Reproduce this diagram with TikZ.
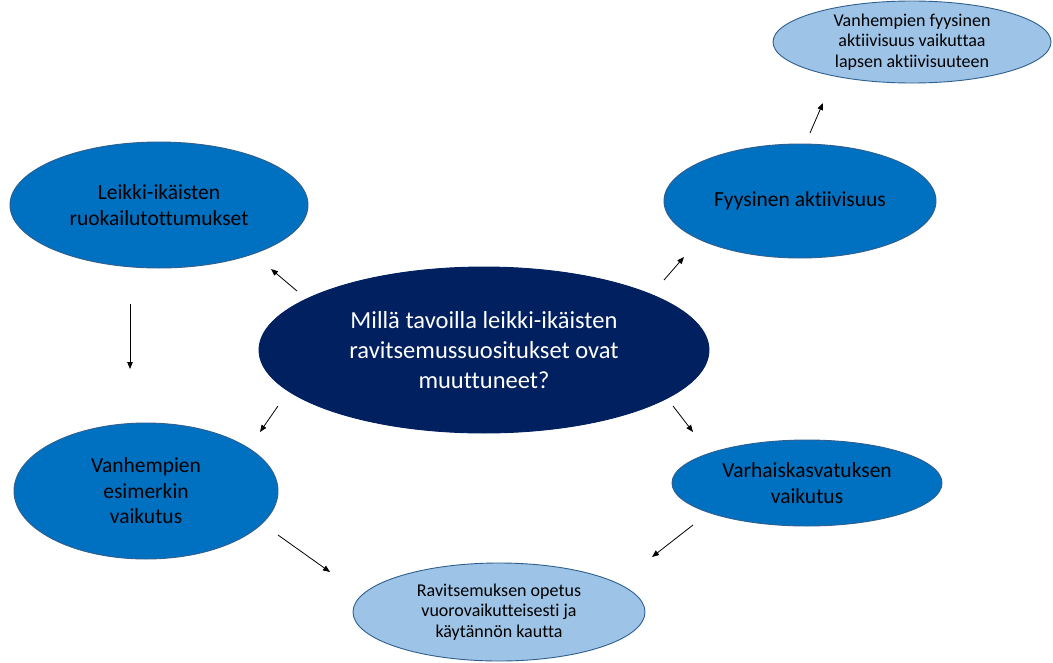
\documentclass[tikz,border=0pt]{standalone}
\usepackage{fontspec}
\setmainfont{Carlito}[Ligatures=CommonOff]
\usetikzlibrary{shapes.geometric,arrows.meta}
\definecolor{navy}{HTML}{002060}
\definecolor{midblue}{HTML}{0070C0}
\definecolor{lightblue}{HTML}{9DC3E6}
\definecolor{edgeblue}{HTML}{2F5F8F}
\begin{document}
\begin{tikzpicture}[x=1pt,y=-1pt,
  bubble/.style={ellipse, draw=edgeblue, line width=0.9pt, inner sep=0pt, align=center},
  mid/.style={bubble, fill=midblue, font=\fontsize{21.5}{25.5}\selectfont, text=black},
  light/.style={bubble, fill=lightblue, font=\fontsize{18}{20.5}\selectfont, text=black},
  core/.style={bubble, fill=navy, draw=navy, font=\fontsize{24.5}{30}\selectfont, text=white},
  arr/.style={-{Triangle[length=7pt,width=5.5pt]}, line width=0.8pt, black}]
\useasboundingbox (0,0) rectangle (1053,662);
\fill[white] (0,0) rectangle (1053,662);

\node[core, minimum width=450pt, minimum height=166pt] (c) at (484,350)
  {Millä tavoilla leikki-ikäisten\\ravitsemussuositukset ovat\\muuttuneet?};
\node[mid, minimum width=298pt, minimum height=126pt] (tl) at (159,205)
  {Leikki-ikäisten\\ruokailutottumukset};
\node[mid, minimum width=272pt, minimum height=114pt] (tr) at (800,201)
  {Fyysinen aktiivisuus};
\node[light, minimum width=278pt, minimum height=82pt] (top) at (912,42)
  {Vanhempien fyysinen\\aktiivisuus vaikuttaa\\lapsen aktiivisuuteen};
\node[mid, minimum width=264pt, minimum height=136pt] (bl) at (146,491)
  {Vanhempien\\esimerkin\\vaikutus};
\node[mid, minimum width=270pt, minimum height=86pt] (br) at (807,483)
  {Varhaiskasvatuksen\\vaikutus};
\node[light, minimum width=292pt, minimum height=98pt] (bot) at (499,612)
  {Ravitsemuksen opetus\\vuorovaikutteisesti ja\\käytännön kautta};

\coordinate (a1s) at (297,291); \coordinate (a1e) at (271,269);
\coordinate (a2s) at (664,280); \coordinate (a2e) at (684,257);
\coordinate (a3s) at (278,406); \coordinate (a3e) at (260,432);
\coordinate (a4s) at (673,406); \coordinate (a4e) at (693,432);
\coordinate (a5s) at (130,304); \coordinate (a5e) at (130,369);
\coordinate (a6s) at (810,133); \coordinate (a6e) at (823,103);
\coordinate (a7s) at (278,535); \coordinate (a7e) at (330,572);
\coordinate (a8s) at (693,525); \coordinate (a8e) at (652,557);

\draw[arr] (a1s) -- (a1e);
\draw[arr] (a2s) -- (a2e);
\draw[arr] (a3s) -- (a3e);
\draw[arr] (a4s) -- (a4e);
\draw[arr] (a5s) -- (a5e);
\draw[arr] (a6s) -- (a6e);
\draw[arr] (a7s) -- (a7e);
\draw[arr] (a8s) -- (a8e);
\end{tikzpicture}
\end{document}
